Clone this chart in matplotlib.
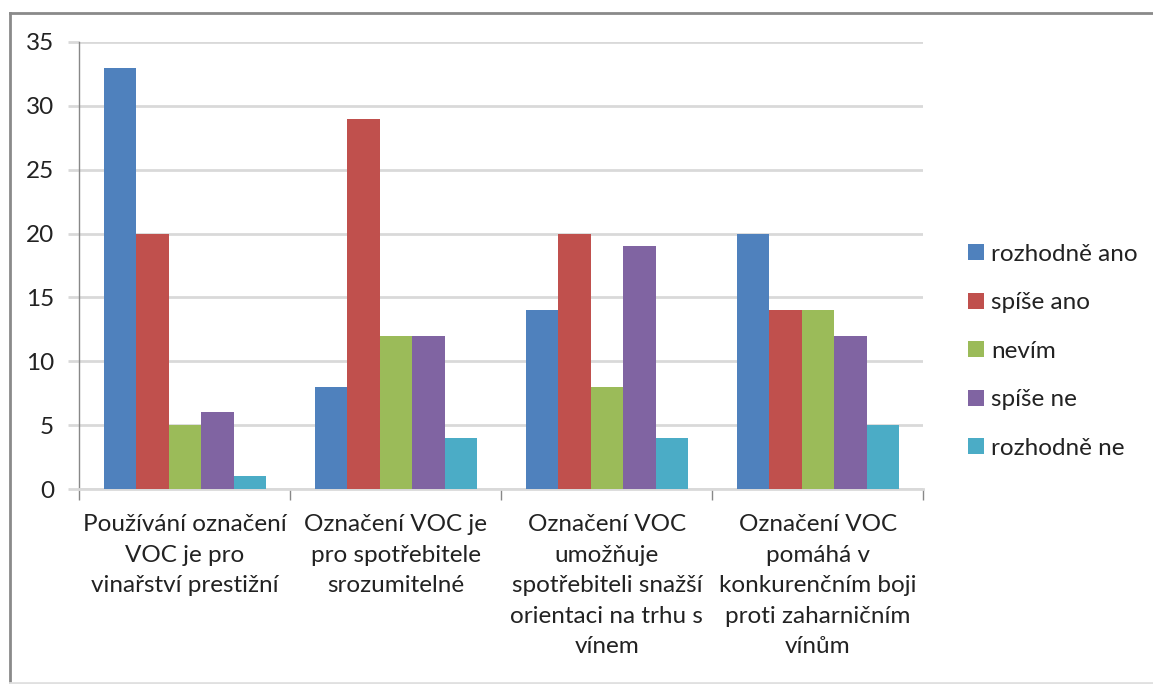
import matplotlib
matplotlib.use("Agg")
import matplotlib.pyplot as plt
import numpy as np
from matplotlib.lines import Line2D

plt.rcParams['font.family'] = ['Lato', 'DejaVu Sans']

categories = [
    "Používání označení\nVOC je pro\nvinařství prestižní",
    "Označení VOC je\npro spotřebitele\nsrozumitelné",
    "Označení VOC\numožňuje\nspotřebiteli snažší\norientaci na trhu s\nvínem",
    "Označení VOC\npomáhá v\nkonkurenčním boji\nproti zaharničním\nvínům",
]
series_names = ["rozhodně ano", "spíše ano", "nevím", "spíše ne", "rozhodně ne"]
rozhodne_ano = [33, 8, 14, 20]
spise_ano = [20, 29, 20, 14]
nevim = [5, 12, 8, 14]
spise_ne = [6, 12, 19, 12]
rozhodne_ne = [1, 4, 4, 5]
series_values = [rozhodne_ano, spise_ano, nevim, spise_ne, rozhodne_ne]
colors = ["#4F81BD", "#C0504D", "#9BBB59", "#8064A2", "#4BACC6"]
yticks = [0, 5, 10, 15, 20, 25, 30, 35]

FS = 17.5
W, H = 1153, 684
fig = plt.figure(figsize=(W / 100, H / 100), dpi=100)

# outer chart border
fig.add_artist(Line2D([10 / W, 10 / W], [1 - 13 / H, 1 - 683 / H], transform=fig.transFigure,
                      color="#8a8a8a", lw=2))
fig.add_artist(Line2D([10 / W, 1.0], [1 - 13 / H, 1 - 13 / H], transform=fig.transFigure,
                      color="#8a8a8a", lw=2))
fig.add_artist(Line2D([10 / W, 1.0], [1 - 683 / H, 1 - 683 / H], transform=fig.transFigure,
                      color="#e0e0e0", lw=2))

ax = fig.add_axes([79 / W, 1 - 489 / H, (923 - 79) / W, (489 - 42) / H])

n = len(series_names)
bw = 0.1536
x = np.arange(len(categories)) + 0.502
for i, (name, vals, c) in enumerate(zip(series_names, series_values, colors)):
    ax.bar(x + (i - (n - 1) / 2) * bw, vals, width=bw, color=c, label=name, zorder=3)

ax.set_xlim(0, 4)
ax.set_ylim(0, 35)
ax.set_yticks(yticks)
ax.yaxis.grid(True, color="#d9d9d9", lw=2, zorder=0)
ax.set_axisbelow(True)
ax.tick_params(axis='y', length=8, width=2, color="#d9d9d9", labelsize=FS, pad=10, labelcolor="#222222")

# x ticks at category boundaries
ax.set_xticks([0, 1, 2, 3, 4])
ax.set_xticklabels([])
ax.tick_params(axis='x', length=8, width=1, color="#888888")
ax.set_xticks(x, minor=True)
ax.set_xticklabels(categories, minor=True, fontsize=FS, color="#222222", linespacing=1.56)
ax.tick_params(axis='x', which='minor', length=0, pad=18)

for s in ["top", "right"]:
    ax.spines[s].set_visible(False)
ax.spines["left"].set_color("#888888")
ax.spines["left"].set_linewidth(1)
ax.spines["bottom"].set_color("#d9d9d9")
ax.spines["bottom"].set_linewidth(2)

leg = fig.legend(loc="upper left", bbox_to_anchor=(946 / W, 1 - 222 / H), frameon=False,
                 fontsize=FS, handlelength=0.65, handleheight=0.65, handletextpad=0.3,
                 labelspacing=1.13, labelcolor="#222222")

fig.savefig("out.png", dpi=100)
